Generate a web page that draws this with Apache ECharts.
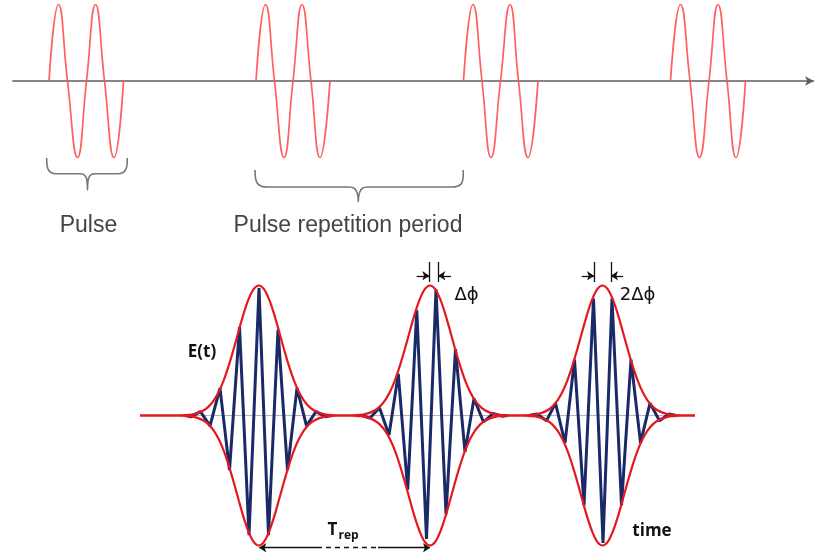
<!DOCTYPE html>
<html>
<head>
<meta charset="utf-8">
<script src="https://cdn.jsdelivr.net/npm/echarts@6/dist/echarts.min.js"></script>
<style>
html,body{margin:0;padding:0;background:#fff;}
#c{width:814px;height:557px;}
</style>
</head>
<body>
<div id="c"></div>
<script>
// ---------- TOP: pulse train (time units, amplitude normalised) ----------
const sineY = [0, 1, 0, -1, 0, 1, 0, -1, 0];
const sineX1 = [49, 58.5, 67.5, 77.5, 86.5, 95.5, 104.5, 114, 123.5];
const sineX2 = [256, 265.5, 274.5, 284, 293, 302, 311, 320, 330];
const sineX3 = [463.5, 473, 482, 491, 500.5, 510, 518.5, 528, 538];
const sineX4 = [670.5, 680.5, 690, 699.5, 709, 718, 727, 736, 745.5];

const bracePulseX = [46.7, 47, 48.5, 51.5, 56, 80, 84.5, 86.5, 87.3, 87.5, 87.7, 88.5, 90.5, 95, 118, 122.5, 125.5, 127, 127.3];
const bracePulseY = [-1.007, -1.098, -1.163, -1.2, -1.213, -1.213, -1.229, -1.275, -1.346, -1.425, -1.346, -1.275, -1.229, -1.213, -1.213, -1.2, -1.163, -1.098, -1.007];
const braceRepX = [255, 255.5, 257.5, 261.5, 267, 349, 354.5, 357, 358, 358.3, 358.6, 359.6, 362, 367.5, 452, 457.5, 461.5, 463, 463.3];
const braceRepY = [-1.163, -1.268, -1.34, -1.375, -1.386, -1.386, -1.405, -1.458, -1.516, -1.578, -1.516, -1.458, -1.405, -1.386, -1.386, -1.375, -1.34, -1.268, -1.163];

// ---------- BOTTOM: mode-locked pulses ----------
const pulseCenters = [258.8, 430, 602.5];
const envOffset = [-80,-75,-70,-65,-60,-55,-50,-45,-40,-35,-30,-25,-20,-15,-10,-5,0,5,10,15,20,25,30,35,40,45,50,55,60,65,70,75,80];
const envAmp = [0,0.002,0.005,0.011,0.022,0.04,0.07,0.117,0.183,0.272,0.385,0.515,0.654,0.788,0.899,0.974,1,0.974,0.899,0.788,0.654,0.515,0.385,0.272,0.183,0.117,0.07,0.04,0.022,0.011,0.005,0.002,0];
const baselineX = [140, 695];

const carrier1X = [186, 191, 200.5, 210, 220, 229.5, 239.5, 249, 259, 268.5, 278, 287.5, 297, 306.5, 316, 325.5, 331];
const carrier1Y = [0, -0.01, 0.03, -0.08, 0.21, -0.42, 0.68, -0.92, 0.98, -0.92, 0.66, -0.42, 0.21, -0.08, 0.03, -0.01, 0];
const carrier2X = [362, 370, 379.5, 389, 398.3, 407.7, 416.8, 426.5, 436, 446, 455.5, 465, 474, 483.5, 493, 502, 508];
const carrier2Y = [0, -0.02, 0.06, -0.15, 0.32, -0.57, 0.81, -0.95, 0.97, -0.76, 0.51, -0.28, 0.13, -0.05, 0.015, -0.005, 0];
const carrier3X = [529, 537, 546.5, 555.5, 565, 574.5, 584, 593.5, 603, 612, 621.5, 631, 640.5, 650, 659.5, 669, 676];
const carrier3Y = [0, 0.012, -0.04, 0.095, -0.21, 0.43, -0.69, 0.90, -0.98, 0.90, -0.69, 0.43, -0.21, 0.095, -0.04, 0.012, 0];

// annotation anchors (data units)
const phaseTickX = [429.3, 438.3, 594, 611];
const phaseTickY = [1.027, 1.181];
const phaseArrowY = 1.075;
const phaseArrows = [[416.7, 429.3], [451, 438.3], [581.7, 594], [623, 611]];
const trepY = -1.017;
const trepSolid = [[317, 259.3], [378, 430]];
const trepDash = [317, 378];

// ---------- build ----------
const zip = (xs, ys) => xs.map((x, i) => [x, ys[i]]);
function envelope(sign) {
  const d = [[baselineX[0], 0]];
  pulseCenters.forEach(c => envOffset.forEach((o, i) => d.push([c + o, sign * envAmp[i]])));
  d.push([baselineX[1], 0]);
  return d;
}
const sineColor = '#ff4f4f';
const redEnv = '#e3191f';
const navy = '#1a2a68';

const markLines = [];
phaseTickX.forEach(x => markLines.push([
  {coord: [x, phaseTickY[0]], symbol: 'none'},
  {coord: [x, phaseTickY[1]], symbol: 'none'}
]));
phaseArrows.forEach(a => markLines.push([
  {coord: [a[0], phaseArrowY], symbol: 'none'},
  {coord: [a[1], phaseArrowY], symbol: 'arrow'}
]));
trepSolid.forEach(a => markLines.push([
  {coord: [a[0], trepY], symbol: 'none'},
  {coord: [a[1], trepY], symbol: 'arrow'}
]));
markLines.push([
  {coord: [trepDash[0], trepY], symbol: 'none', lineStyle: {type: [5, 4]}},
  {coord: [trepDash[1], trepY], symbol: 'none', lineStyle: {type: [5, 4]}}
]);

const sineSeries = [sineX1, sineX2, sineX3, sineX4].map(xs => ({
  type: 'line', xAxisIndex: 0, yAxisIndex: 0, data: zip(xs, sineY),
  smooth: 0.5, showSymbol: false, lineStyle: {color: sineColor, width: 1.7, opacity: 0.9}
}));
const braceSeries = [[bracePulseX, bracePulseY], [braceRepX, braceRepY]].map(b => ({
  type: 'line', xAxisIndex: 0, yAxisIndex: 0, data: zip(b[0], b[1]),
  smooth: 0.2, showSymbol: false, lineStyle: {color: '#777', width: 1.6}
}));
const carrierSeries = [[carrier1X, carrier1Y], [carrier2X, carrier2Y], [carrier3X, carrier3Y]].map(c => ({
  type: 'line', xAxisIndex: 1, yAxisIndex: 1, data: zip(c[0], c[1]), z: 3,
  smooth: false, showSymbol: false, lineStyle: {color: navy, width: 3}
}));

const option = {
  animation: false,
  backgroundColor: '#fff',
  grid: [
    {left: 13, right: 0, top: 0.675, height: 241},
    {left: 0, right: 0, top: 259.5, height: 292.5}
  ],
  xAxis: [
    {type: 'value', gridIndex: 0, min: 13, max: 814,
     axisLine: {show: true, onZero: true, symbol: ['none', 'arrow'], symbolSize: [7, 9],
                lineStyle: {color: '#5e5e5e', width: 1.7}},
     axisTick: {show: false}, axisLabel: {show: false}, splitLine: {show: false}},
    {type: 'value', gridIndex: 1, min: 0, max: 814, show: false}
  ],
  yAxis: [
    {type: 'value', gridIndex: 0, min: -2.1, max: 1.05, show: false},
    {type: 'value', gridIndex: 1, min: -1.05, max: 1.2, show: false}
  ],
  series: [
    ...sineSeries,
    ...braceSeries,
    {type: 'line', xAxisIndex: 1, yAxisIndex: 1, z: 1, showSymbol: false,
     data: baselineX.map(x => [x, 0]), lineStyle: {color: '#b5b5b5', width: 1},
     markLine: {silent: true, animation: false, symbolSize: 7, label: {show: false},
                lineStyle: {color: '#111', width: 1.3, type: 'solid'}, data: markLines}},
    ...carrierSeries,
    {type: 'line', xAxisIndex: 1, yAxisIndex: 1, z: 4, data: envelope(1), smooth: 0.3,
     showSymbol: false, lineStyle: {color: redEnv, width: 2.2}},
    {type: 'line', xAxisIndex: 1, yAxisIndex: 1, z: 4, data: envelope(-1), smooth: 0.3,
     showSymbol: false, lineStyle: {color: redEnv, width: 2.2}}
  ],
  graphic: [
    {type: 'text', x: 88.5, y: 226, z: 10, style: {text: 'Pulse', font: '23px "Liberation Sans", Arial, sans-serif', fill: '#444', align: 'center', verticalAlign: 'middle'}},
    {type: 'text', x: 348, y: 226, z: 10, style: {text: 'Pulse repetition period', font: '23px "Liberation Sans", Arial, sans-serif', fill: '#444', align: 'center', verticalAlign: 'middle'}},
    {type: 'text', x: 202, y: 352, z: 10, style: {text: 'E(t)', font: 'bold 17px "Open Sans", sans-serif', fill: '#111', align: 'center', verticalAlign: 'middle'}},
    {type: 'text', x: 652, y: 531, z: 10, style: {text: 'time', font: 'bold 17px "Open Sans", sans-serif', fill: '#111', align: 'center', verticalAlign: 'middle'}},
    {type: 'text', x: 332.5, y: 530.5, z: 10, style: {text: 'T', font: 'bold 17px "Open Sans", sans-serif', fill: '#111', align: 'center', verticalAlign: 'middle'}},
    {type: 'text', x: 348.5, y: 535.5, z: 10, style: {text: 'rep', font: 'bold 12px "Open Sans", sans-serif', fill: '#111', align: 'center', verticalAlign: 'middle'}},
    {type: 'text', x: 466.5, y: 295, z: 10, style: {text: 'Δϕ', font: '18px "DejaVu Sans", sans-serif', fill: '#111', align: 'center', verticalAlign: 'middle'}},
    {type: 'text', x: 637.5, y: 295, z: 10, style: {text: '2Δϕ', font: '18px "DejaVu Sans", sans-serif', fill: '#111', align: 'center', verticalAlign: 'middle'}}
  ]
};
const chart = echarts.init(document.getElementById('c'), null, {renderer: 'canvas'});
chart.setOption(option);
</script>
</body>
</html>
